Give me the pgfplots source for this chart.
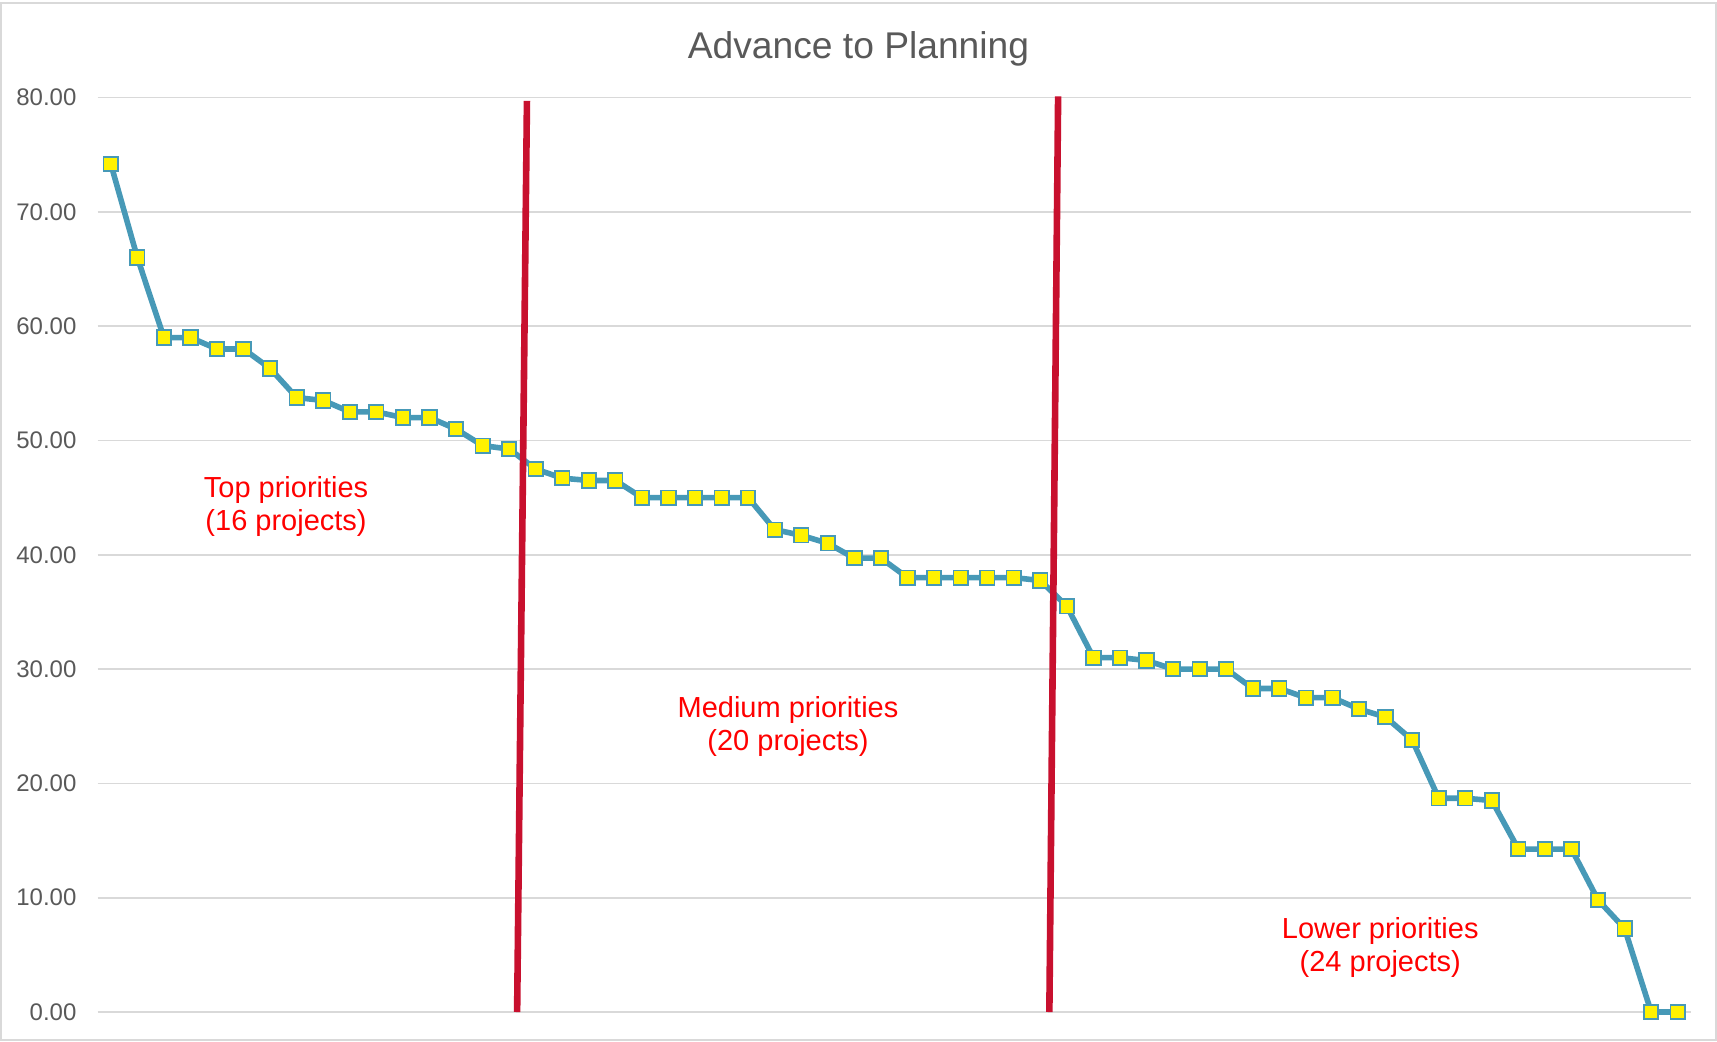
\documentclass[border=0pt]{standalone}
\usepackage{fontspec}
\setmainfont{Liberation Sans}
\usepackage{pgfplots}
\pgfplotsset{compat=1.18}
\definecolor{linecol}{HTML}{4799B7}
\definecolor{gridcol}{HTML}{D9D9D9}
\definecolor{txtgray}{HTML}{595959}
\definecolor{crimsonline}{HTML}{C8102E}
\begin{document}
\begin{tikzpicture}
\useasboundingbox (0,0) rectangle (858.5pt,520.5pt);
\draw[gridcol, line width=0.8pt] (0.5pt,0.5pt) rectangle (858pt,519pt);
\node[text=txtgray, font=\fontsize{18.6pt}{22pt}\selectfont] at (429.25pt,496.3pt) {Advance to Planning};
\begin{axis}[
  at={(48.75pt,14.5pt)}, anchor=south west,
  scale only axis, width=796.75pt, height=457.25pt,
  xmin=0.5, xmax=60.5, ymin=0, ymax=80,
  axis line style={draw=none},
  xtick=\empty,
  ytick={0,10,...,80},
  ymajorgrids, grid style={gridcol, line width=0.8pt},
  major tick length=0pt,
  yticklabel style={text=txtgray, font=\fontsize{12pt}{14pt}\selectfont, xshift=-7pt},
  /pgf/number format/.cd, fixed, fixed zerofill, precision=2, assume math mode=true,
  /pgfplots/.cd,
  clip=false,
]
\addplot[color=linecol, line width=2.8pt, mark=square*, mark size=3.6pt,
  mark options={fill=yellow, draw=linecol, line width=0.9pt}]
coordinates {
(1,74.2) (2,66.0) (3,59.0) (4,59.0) (5,58.0) (6,58.0) (7,56.3) (8,53.75) (9,53.5) (10,52.5)
(11,52.5) (12,52.0) (13,52.0) (14,51.0) (15,49.55) (16,49.25) (17,47.5) (18,46.7) (19,46.5) (20,46.5)
(21,45.0) (22,45.0) (23,45.0) (24,45.0) (25,45.0) (26,42.2) (27,41.7) (28,41.0) (29,39.7) (30,39.7)
(31,38.0) (32,38.0) (33,38.0) (34,38.0) (35,38.0) (36,37.75) (37,35.5) (38,31.0) (39,31.0) (40,30.75)
(41,30.0) (42,30.0) (43,30.0) (44,28.3) (45,28.3) (46,27.5) (47,27.5) (48,26.5) (49,25.8) (50,23.8)
(51,18.7) (52,18.7) (53,18.5) (54,14.25) (55,14.25) (56,14.25) (57,9.8) (58,7.3) (59,0) (60,0)
};
\draw[crimsonline, line width=3.3pt] (axis cs:16.67,79.7) -- (axis cs:16.30,0);
\draw[crimsonline, line width=3.3pt] (axis cs:36.67,80.1) -- (axis cs:36.34,0);
\node[text=red, align=center, font=\fontsize{14.5pt}{16.5pt}\selectfont] at (axis cs:7.6,44.2) {Top priorities\\(16 projects)};
\node[text=red, align=center, font=\fontsize{14.5pt}{16.5pt}\selectfont] at (axis cs:26.5,24.95) {Medium priorities\\(20 projects)};
\node[text=red, align=center, font=\fontsize{14.5pt}{16.5pt}\selectfont] at (axis cs:48.8,5.6) {Lower priorities\\(24 projects)};
\end{axis}
\end{tikzpicture}
\end{document}
